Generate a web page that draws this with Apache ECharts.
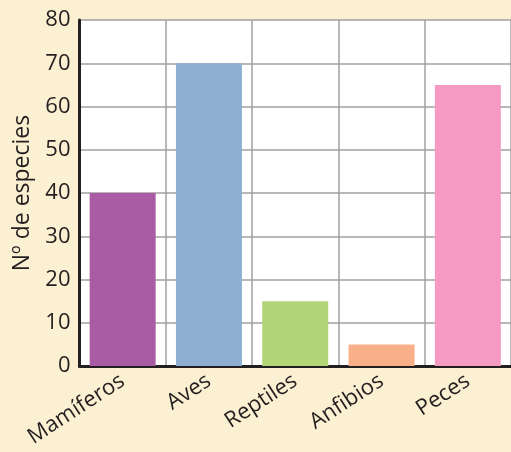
<!DOCTYPE html>
<html>
<head>
<meta charset="utf-8">
<script src="https://cdn.jsdelivr.net/npm/echarts@6/dist/echarts.min.js"></script>
<style>
  html, body { margin: 0; padding: 0; background: #FCF0D2; }
  #chart { width: 511px; height: 452px; }
</style>
</head>
<body>
<div id="chart"></div>
<script>
// Número de especies por grupo
const categories = ['Mamíferos', 'Aves', 'Reptiles', 'Anfibios', 'Peces'];
const especies = [40, 70, 15, 5, 65];
const barColors = ['#A95BA3', '#8DAFD1', '#B2D577', '#F9AF88', '#F49AC3'];
const yTicks = { min: 0, max: 80, interval: 10 };

const chart = echarts.init(document.getElementById('chart'), null, { renderer: 'canvas' });
const fontFamily = '"Open Sans", "Noto Sans", sans-serif';

chart.setOption({
  backgroundColor: '#FCF0D2',
  animation: false,
  grid: { left: 79.5, top: 20, width: 435, height: 346, backgroundColor: '#FFFFFF', show: true, borderWidth: 0 },
  xAxis: {
    type: 'category',
    data: categories,
    axisLine: { show: true, lineStyle: { color: '#231F20', width: 3 } },
    axisTick: { show: false },
    splitLine: { show: true, lineStyle: { color: '#A0A0A0', width: 1.5 } },
    axisLabel: {
      rotate: 33, margin: 13, interval: 0,
      color: '#231F20', fontSize: 22, fontFamily: fontFamily
    }
  },
  yAxis: {
    type: 'value',
    min: yTicks.min, max: yTicks.max, interval: yTicks.interval,
    name: 'Nº de especies',
    nameLocation: 'middle',
    nameGap: 45,
    nameTextStyle: { color: '#231F20', fontSize: 23, fontFamily: fontFamily },
    axisLine: { show: true, lineStyle: { color: '#231F20', width: 3 } },
    axisTick: { show: false },
    splitLine: { show: true, lineStyle: { color: '#A0A0A0', width: 1.5 } },
    axisLabel: { margin: 9, color: '#231F20', fontSize: 22, fontFamily: fontFamily }
  },
  series: [{
    type: 'bar',
    data: especies.map((v, i) => ({ value: v, itemStyle: { color: barColors[i] } })),
    barWidth: 66,
    z: 1
  }]
});
</script>
</body>
</html>
